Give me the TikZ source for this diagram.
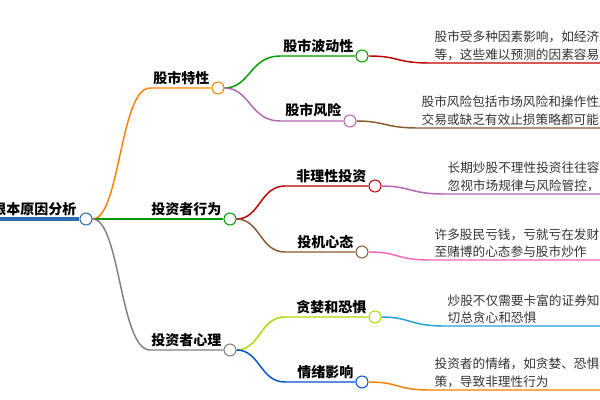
\documentclass[tikz,border=0pt]{standalone}
\usepackage{fontspec}
\setmainfont{Noto Sans CJK SC}
\definecolor{rootblue}{HTML}{2B6CB0}
\begin{document}
\begin{tikzpicture}[x=0.75pt,y=-0.75pt,
 dot/.style={circle,draw,fill=white,line width=0.8pt,minimum size=9pt,inner sep=0pt},
 lbl/.style={font=\bfseries\fontsize{10.5}{12}\selectfont,anchor=south east,inner sep=1pt},
 txt/.style={font=\fontsize{9.5}{13}\selectfont,anchor=south west,align=left,inner sep=1pt,text=black!80},
 ln/.style={line width=1.1pt}]
\useasboundingbox (0,0) rectangle (600,400);
\clip (0,0) rectangle (600,400);
% root
\coordinate (r0) at (0,219);
\node[dot,draw=rootblue] (root) at (86,219) {};
\draw[line width=3pt,draw=rootblue] (r0) -- (root.west);
\node[lbl] at (78,217) {根本原因分析};
% level 1
\node[dot,draw=orange] (a) at (218,88) {};
\node[dot,draw=green!60!black] (b) at (230,219) {};
\node[dot,draw=gray] (c) at (230,350) {};
\coordinate (ai) at (150,88);\coordinate (bi) at (150,219);\coordinate (ci) at (150,350);
\draw[ln,orange] (root.east) .. controls (120,219) and (120,88) .. (ai) -- (a.west);
\draw[ln,green!60!black] (root.east) -- (b.west);
\draw[ln,gray] (root.east) .. controls (120,219) and (120,350) .. (ci) -- (c.west);
\node[lbl] at (211,86) {股市特性};
\node[lbl] at (223,217) {投资者行为};
\node[lbl] at (223,348) {投资者心理};
% level 2
\node[dot,draw=green!60!black] (a1) at (362,56) {};
\node[dot,draw=violet!60] (a2) at (350,121) {};
\node[dot,draw=red!75!black] (b1) at (375,186) {};
\node[dot,draw=brown!70!black] (b2) at (362,252) {};
\node[dot,draw=lime!70!olive] (c1) at (375,317) {};
\node[dot,draw=blue!60!cyan!80!black] (c2) at (362,382) {};
\coordinate (a1i) at (280,56);\coordinate (a2i) at (280,121);
\coordinate (b1i) at (285,186);\coordinate (b2i) at (285,252);
\coordinate (c1i) at (285,317);\coordinate (c2i) at (285,382);
\draw[ln,green!60!black] (a.east) .. controls (250,88) and (250,56) .. (a1i) -- (a1.west);
\draw[ln,violet!60] (a.east) .. controls (250,88) and (250,121) .. (a2i) -- (a2.west);
\draw[ln,red!75!black] (b.east) .. controls (260,219) and (260,186) .. (b1i) -- (b1.west);
\draw[ln,brown!70!black] (b.east) .. controls (260,219) and (260,252) .. (b2i) -- (b2.west);
\draw[ln,lime!70!olive] (c.east) .. controls (260,350) and (260,317) .. (c1i) -- (c1.west);
\draw[ln,blue!60!cyan!80!black] (c.east) .. controls (260,350) and (260,382) .. (c2i) -- (c2.west);
\node[lbl] at (355,54) {股市波动性};
\node[lbl] at (343,119) {股市风险};
\node[lbl] at (368,184) {非理性投资};
\node[lbl] at (355,250) {投机心态};
\node[lbl] at (368,315) {贪婪和恐惧};
\node[lbl] at (355,380) {情绪影响};
% level 3
\coordinate (e1) at (620,63);\coordinate (e2) at (620,128);\coordinate (e3) at (620,194);
\coordinate (e4) at (620,260);\coordinate (e5) at (620,326);\coordinate (e6) at (620,390);
\draw[ln,red!75!black] (a1.east) .. controls (400,56) and (395,63) .. (430,63) -- (e1);
\draw[ln,brown!70!black] (a2.east) .. controls (385,121) and (385,128) .. (418,128) -- (e2);
\draw[ln,violet!60] (b1.east) .. controls (410,186) and (410,194) .. (444,194) -- (e3);
\draw[ln,magenta!60] (b2.east) .. controls (400,252) and (395,260) .. (430,260) -- (e4);
\draw[ln,cyan!70!teal] (c1.east) .. controls (410,317) and (410,326) .. (444,326) -- (e5);
\draw[ln,orange] (c2.east) .. controls (400,382) and (395,390) .. (430,390) -- (e6);
\node[txt] at (433,62) {股市受多种因素影响，如经济政策\\等，这些难以预测的因素容易导致};
\node[txt] at (420,127) {股市风险包括市场风险和操作性风险\\交易或缺乏有效止损策略都可能};
\node[txt] at (446,193) {长期炒股不理性投资往往容易\\忽视市场规律与风险管控，};
\node[txt] at (433,259) {许多股民亏钱，亏就亏在发财\\至赌博的心态参与股市炒作};
\node[txt] at (446,325) {炒股不仅需要卡富的证券知识\\切总贪心和恐惧};
\node[txt] at (433,389) {投资者的情绪，如贪婪、恐惧\\策，导致非理性行为};
\end{tikzpicture}
\end{document}
